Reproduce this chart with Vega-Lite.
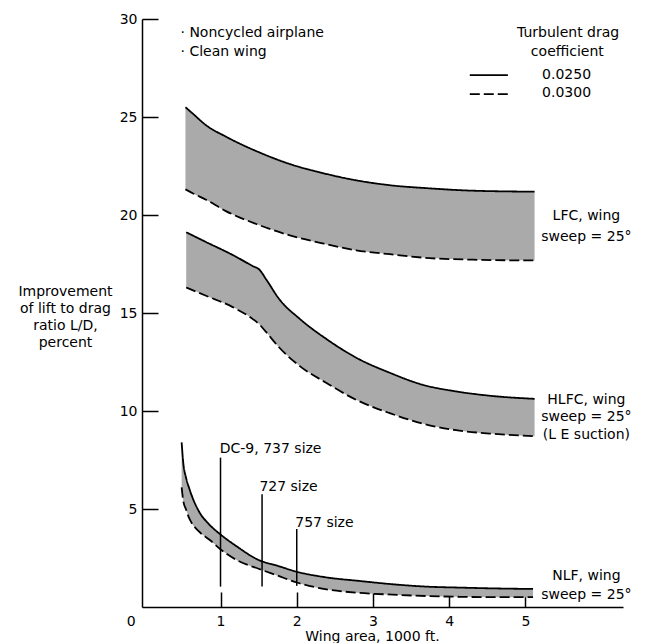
{
  "$schema": "https://vega.github.io/schema/vega-lite/v6.json",
  "width": 481,
  "height": 588,
  "autosize": {"type": "none"},
  "padding": {"left": 142, "top": 19, "right": 25, "bottom": 36},
  "background": "white",
  "config": {"view": {"stroke": null}, "font": "DejaVu Sans"},
  "datasets": {
    "bands": [
      {"band": "LFC", "x": 0.54, "hi": 25.5, "lo": 21.31},
      {"band": "LFC", "x": 0.64, "hi": 25.16, "lo": 21.1},
      {"band": "LFC", "x": 0.81, "hi": 24.58, "lo": 20.78},
      {"band": "LFC", "x": 1.07, "hi": 24.0, "lo": 20.2},
      {"band": "LFC", "x": 1.47, "hi": 23.26, "lo": 19.54},
      {"band": "LFC", "x": 1.91, "hi": 22.6, "lo": 18.96},
      {"band": "LFC", "x": 2.34, "hi": 22.14, "lo": 18.55},
      {"band": "LFC", "x": 2.78, "hi": 21.77, "lo": 18.2},
      {"band": "LFC", "x": 3.22, "hi": 21.52, "lo": 18.0},
      {"band": "LFC", "x": 3.74, "hi": 21.36, "lo": 17.8},
      {"band": "LFC", "x": 4.31, "hi": 21.24, "lo": 17.72},
      {"band": "LFC", "x": 5.12, "hi": 21.19, "lo": 17.68},
      {"band": "HLFC", "x": 0.55, "hi": 19.12, "lo": 16.3},
      {"band": "HLFC", "x": 0.81, "hi": 18.62, "lo": 15.88},
      {"band": "HLFC", "x": 1.16, "hi": 17.96, "lo": 15.3},
      {"band": "HLFC", "x": 1.42, "hi": 17.4, "lo": 14.7},
      {"band": "HLFC", "x": 1.51, "hi": 17.21, "lo": 14.42},
      {"band": "HLFC", "x": 1.6, "hi": 16.71, "lo": 14.02},
      {"band": "HLFC", "x": 1.77, "hi": 15.71, "lo": 13.24},
      {"band": "HLFC", "x": 2.04, "hi": 14.7, "lo": 12.29},
      {"band": "HLFC", "x": 2.39, "hi": 13.67, "lo": 11.43},
      {"band": "HLFC", "x": 2.78, "hi": 12.72, "lo": 10.57},
      {"band": "HLFC", "x": 3.22, "hi": 11.95, "lo": 9.89},
      {"band": "HLFC", "x": 3.65, "hi": 11.34, "lo": 9.36},
      {"band": "HLFC", "x": 4.09, "hi": 11.0, "lo": 9.02},
      {"band": "HLFC", "x": 4.53, "hi": 10.78, "lo": 8.85},
      {"band": "HLFC", "x": 5.12, "hi": 10.62, "lo": 8.71},
      {"band": "NLF", "x": 0.49, "hi": 8.4, "lo": 6.1},
      {"band": "NLF", "x": 0.51, "hi": 7.41, "lo": 5.45},
      {"band": "NLF", "x": 0.55, "hi": 6.56, "lo": 4.95},
      {"band": "NLF", "x": 0.59, "hi": 6.05, "lo": 4.52},
      {"band": "NLF", "x": 0.62, "hi": 5.71, "lo": 4.3},
      {"band": "NLF", "x": 0.72, "hi": 4.86, "lo": 3.84},
      {"band": "NLF", "x": 0.86, "hi": 4.18, "lo": 3.42},
      {"band": "NLF", "x": 1.01, "hi": 3.67, "lo": 2.91},
      {"band": "NLF", "x": 1.21, "hi": 3.1, "lo": 2.4},
      {"band": "NLF", "x": 1.5, "hi": 2.4, "lo": 1.95},
      {"band": "NLF", "x": 1.75, "hi": 2.1, "lo": 1.6},
      {"band": "NLF", "x": 2.0, "hi": 1.8, "lo": 1.25},
      {"band": "NLF", "x": 2.39, "hi": 1.51, "lo": 0.9},
      {"band": "NLF", "x": 2.82, "hi": 1.33, "lo": 0.72},
      {"band": "NLF", "x": 3.26, "hi": 1.16, "lo": 0.63},
      {"band": "NLF", "x": 3.7, "hi": 1.04, "lo": 0.56},
      {"band": "NLF", "x": 4.14, "hi": 0.99, "lo": 0.52},
      {"band": "NLF", "x": 4.57, "hi": 0.95, "lo": 0.5},
      {"band": "NLF", "x": 5.1, "hi": 0.92, "lo": 0.5}
    ],
    "legend": [
      {"x": 4.27, "y": 27.14, "cd": "hi"},
      {"x": 4.77, "y": 27.14, "cd": "hi"},
      {"x": 4.27, "y": 26.17, "cd": "lo"},
      {"x": 4.77, "y": 26.17, "cd": "lo"}
    ],
    "refs": [
      {"x": 1.0, "top": 7.62, "bottom": 1.04},
      {"x": 1.545, "top": 5.75, "bottom": 1.04},
      {"x": 2.0, "top": 3.98, "bottom": 1.08}
    ],
    "leftText": [
      {"x": 0.475, "y": 29.29, "label": "· Noncycled airplane"},
      {"x": 0.475, "y": 28.3, "label": "· Clean wing"},
      {"x": 0.99, "y": 8.06, "label": "DC-9, 737 size"},
      {"x": 1.51, "y": 6.1, "label": "727 size"},
      {"x": 1.98, "y": 4.3, "label": "757 size"}
    ],
    "centerText": [
      {"x": 5.56, "y": 29.27, "label": "Turbulent drag"},
      {"x": 5.55, "y": 28.3, "label": "coefficient"},
      {"x": 5.54, "y": 27.14, "label": "0.0250"},
      {"x": 5.54, "y": 26.2, "label": "0.0300"},
      {"x": 5.8, "y": 19.95, "label": "LFC, wing"},
      {"x": 5.8, "y": 18.9, "label": "sweep = 25°"},
      {"x": 5.8, "y": 10.54, "label": "HLFC, wing"},
      {"x": 5.8, "y": 9.71, "label": "sweep = 25°"},
      {"x": 5.8, "y": 8.78, "label": "(L E suction)"},
      {"x": 5.8, "y": 1.58, "label": "NLF, wing"},
      {"x": 5.8, "y": 0.61, "label": "sweep = 25°"}
    ]
  },
  "layer": [
    {
      "data": {"name": "bands"},
      "mark": {"type": "area", "color": "#aaaaaa", "opacity": 1, "interpolate": "monotone"},
      "encoding": {
        "x": {
          "field": "x", "type": "quantitative",
          "scale": {"domain": [-0.03, 6.28], "nice": false, "zero": false},
          "axis": {
            "values": [0, 1, 2, 3, 4, 5],
            "format": "d",
            "grid": false,
            "domainColor": "black", "domainWidth": 1.5,
            "tickColor": "black", "tickWidth": 1.5, "tickSize": -15,
            "tickOpacity": {"condition": {"test": "datum.value == 0", "value": 0}, "value": 1},
            "labelAlign": {"condition": {"test": "datum.value == 0", "value": "right"}, "value": "center"},
            "labelOffset": {"condition": {"test": "datum.value == 0", "value": -9}, "value": 0},
            "labelPadding": 22,
            "labelFont": "DejaVu Sans", "labelFontSize": 14, "labelColor": "black",
            "title": "Wing area, 1000 ft.",
            "titleFont": "DejaVu Sans", "titleFontSize": 14, "titleFontWeight": "normal", "titleColor": "black",
            "titleX": 230, "titleY": 33, "titleAlign": "center", "titleBaseline": "alphabetic"
          }
        },
        "y": {
          "field": "hi", "type": "quantitative",
          "scale": {"domain": [0, 30], "nice": false},
          "axis": {
            "values": [5, 10, 15, 20, 25, 30],
            "grid": false,
            "domainColor": "black", "domainWidth": 1.5,
            "tickColor": "black", "tickWidth": 1.5, "tickSize": -16,
            "labelPadding": 21,
            "labelFont": "DejaVu Sans", "labelFontSize": 14, "labelColor": "black",
            "title": ["Improvement", "of lift to drag", "ratio L/D,", "percent"],
            "titleFont": "DejaVu Sans", "titleFontSize": 14, "titleFontWeight": "normal", "titleColor": "black",
            "titleAngle": 0, "titleX": -77, "titleY": 276, "titleAlign": "center", "titleBaseline": "alphabetic",
            "titleLineHeight": 17
          }
        },
        "y2": {"field": "lo"},
        "detail": {"field": "band"}
      }
    },
    {
      "data": {"name": "bands"},
      "transform": [{"fold": ["hi", "lo"], "as": ["cd", "yv"]}],
      "mark": {"type": "line", "color": "black", "strokeWidth": 1.8, "interpolate": "monotone"},
      "encoding": {
        "x": {"field": "x", "type": "quantitative"},
        "y": {"field": "yv", "type": "quantitative"},
        "detail": {"field": "band"},
        "strokeDash": {
          "field": "cd", "type": "nominal",
          "scale": {"domain": ["hi", "lo"], "range": [[1, 0], [10, 4]]},
          "legend": null
        }
      }
    },
    {
      "data": {"name": "legend"},
      "mark": {"type": "line", "color": "black", "strokeWidth": 1.8},
      "encoding": {
        "x": {"field": "x", "type": "quantitative"},
        "y": {"field": "y", "type": "quantitative"},
        "strokeDash": {"field": "cd", "type": "nominal", "legend": null}
      }
    },
    {
      "data": {"name": "refs"},
      "mark": {"type": "rule", "color": "black", "strokeWidth": 1.5},
      "encoding": {
        "x": {"field": "x", "type": "quantitative"},
        "y": {"field": "top", "type": "quantitative"},
        "y2": {"field": "bottom"}
      }
    },
    {
      "data": {"name": "leftText"},
      "mark": {"type": "text", "align": "left", "baseline": "middle", "font": "DejaVu Sans", "fontSize": 14, "color": "black"},
      "encoding": {
        "x": {"field": "x", "type": "quantitative"},
        "y": {"field": "y", "type": "quantitative"},
        "text": {"field": "label"}
      }
    },
    {
      "data": {"name": "centerText"},
      "mark": {"type": "text", "align": "center", "baseline": "middle", "font": "DejaVu Sans", "fontSize": 14, "color": "black"},
      "encoding": {
        "x": {"field": "x", "type": "quantitative"},
        "y": {"field": "y", "type": "quantitative"},
        "text": {"field": "label"}
      }
    }
  ]
}
